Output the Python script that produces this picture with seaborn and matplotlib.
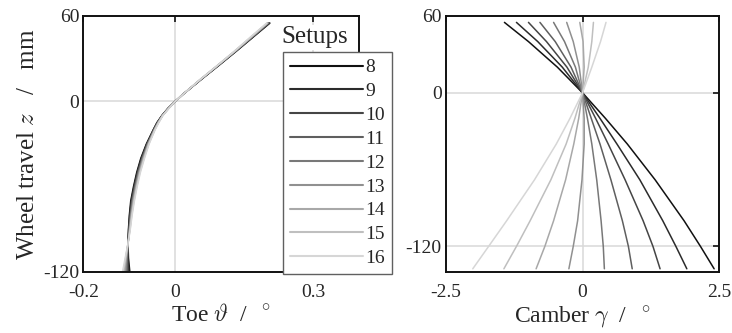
import numpy as np
import pandas as pd
import matplotlib
matplotlib.use("Agg")
import matplotlib.pyplot as plt
import seaborn as sns

# ---------------- data ----------------
setups = ["8", "9", "10", "11", "12", "13", "14", "15", "16"]
colors = ["#111111", "#2b2b2b", "#454545", "#5f5f5f", "#787878",
          "#909090", "#a8a8a8", "#bfbfbf", "#d6d6d6"]

z_toe = [55, 45, 35, 25, 15, 5, 0, -5, -10, -15, -20, -30, -40, -50, -60,
         -70, -80, -90, -100, -110, -120, -137.5]
toe_8 = [0.206, 0.169, 0.132, 0.094, 0.055, 0.017, 0, -0.016, -0.029, -0.040,
         -0.048, -0.063, -0.075, -0.084, -0.091, -0.097, -0.100, -0.102, -0.103, -0.102, -0.099, -0.094]
toe_9 = [0.205, 0.168, 0.131, 0.093, 0.055, 0.017, 0, -0.016, -0.029, -0.0395,
         -0.0475, -0.0623, -0.074, -0.083, -0.090, -0.096, -0.0993, -0.1015, -0.103, -0.1029, -0.101, -0.0979]
toe_10 = [0.204, 0.168, 0.131, 0.093, 0.054, 0.017, 0, -0.0155, -0.0285, -0.039,
          -0.047, -0.0615, -0.073, -0.082, -0.089, -0.095, -0.0985, -0.101, -0.103, -0.1038, -0.103, -0.1018]
toe_11 = [0.203, 0.167, 0.130, 0.092, 0.054, 0.017, 0, -0.0155, -0.0285, -0.0385,
          -0.0465, -0.0608, -0.072, -0.081, -0.088, -0.094, -0.0978, -0.1005, -0.103, -0.1046, -0.105, -0.1056]
toe_12 = [0.202, 0.166, 0.130, 0.092, 0.054, 0.017, 0, -0.015, -0.028, -0.038,
          -0.046, -0.060, -0.071, -0.080, -0.087, -0.093, -0.097, -0.100, -0.103, -0.1055, -0.107, -0.1095]
toe_13 = [0.201, 0.165, 0.129, 0.092, 0.054, 0.017, 0, -0.015, -0.028, -0.0375,
          -0.0455, -0.0593, -0.070, -0.079, -0.086, -0.092, -0.0963, -0.0995, -0.103, -0.1064, -0.109, -0.1134]
toe_14 = [0.201, 0.165, 0.129, 0.091, 0.053, 0.017, 0, -0.0145, -0.0275, -0.037,
          -0.045, -0.0585, -0.069, -0.078, -0.085, -0.091, -0.0955, -0.099, -0.103, -0.1073, -0.111, -0.1173]
toe_15 = [0.200, 0.164, 0.128, 0.091, 0.053, 0.017, 0, -0.0145, -0.0275, -0.0365,
          -0.0445, -0.0578, -0.068, -0.077, -0.084, -0.090, -0.0948, -0.0985, -0.103, -0.1081, -0.113, -0.1211]
toe_16 = [0.199, 0.163, 0.128, 0.091, 0.053, 0.017, 0, -0.014, -0.027, -0.036,
          -0.044, -0.057, -0.067, -0.076, -0.083, -0.089, -0.094, -0.098, -0.103, -0.109, -0.115, -0.125]

z_camber = [55, 40, 20, 0, -20, -40, -68, -100, -120, -137.5]
camber_8 = [-1.43, -0.99, -0.46, 0, 0.42, 0.82, 1.33, 1.86, 2.16, 2.41]
camber_9 = [-1.21, -0.82, -0.37, 0, 0.32, 0.63, 1.05, 1.47, 1.71, 1.91]
camber_10 = [-0.99, -0.66, -0.285, 0, 0.24, 0.47, 0.78, 1.11, 1.29, 1.42]
camber_11 = [-0.78, -0.50, -0.21, 0, 0.16, 0.32, 0.52, 0.73, 0.84, 0.91]
camber_12 = [-0.53, -0.33, -0.13, 0, 0.09, 0.17, 0.26, 0.34, 0.38, 0.40]
camber_13 = [-0.29, -0.17, -0.06, 0, 0.03, 0.03, -0.01, -0.09, -0.17, -0.25]
camber_14 = [-0.05, 0.01, 0.03, 0, -0.07, -0.16, -0.31, -0.53, -0.69, -0.85]
camber_15 = [0.20, 0.17, 0.105, 0, -0.14, -0.30, -0.58, -0.96, -1.21, -1.44]
camber_16 = [0.43, 0.33, 0.17, 0, -0.23, -0.48, -0.88, -1.39, -1.72, -2.01]

toe_ticks = [-0.2, 0, 0.3]
toe_ticklabels = ["-0.2", "0", "0.3"]
camber_ticks = [-2.5, 0, 2.5]
camber_ticklabels = ["-2.5", "0", "2.5"]
z_ticks = [-120, 0, 60]
z_ticklabels = ["-120", "0", "60"]

toe_all = [toe_8, toe_9, toe_10, toe_11, toe_12, toe_13, toe_14, toe_15, toe_16]
camber_all = [camber_8, camber_9, camber_10, camber_11, camber_12,
              camber_13, camber_14, camber_15, camber_16]

toe_df = pd.concat([pd.DataFrame({"setup": s, "z": z_toe, "val": v})
                    for s, v in zip(setups, toe_all)], ignore_index=True)
cam_df = pd.concat([pd.DataFrame({"setup": s, "z": z_camber, "val": v})
                    for s, v in zip(setups, camber_all)], ignore_index=True)
palette = dict(zip(setups, colors))

# ---------------- style ----------------
sns.set_style("white")
plt.rcParams["font.family"] = ["Liberation Serif", "DejaVu Serif"]
plt.rcParams["mathtext.fontset"] = "cm"
plt.rcParams["axes.unicode_minus"] = False

fig = plt.figure(figsize=(7.32, 3.33), dpi=100)
axL = fig.add_axes([0.114, 0.1832, 0.3764, 0.7688])
axR = fig.add_axes([0.6093, 0.1832, 0.3730, 0.7688])

grid_c = "#d9d9d9"
tick_fs = 14
label_fs = 17

# left: toe
axL.axvline(0, color=grid_c, lw=1.1, zorder=0)
axL.axvline(0.3, color=grid_c, lw=1.1, zorder=0)
axL.axhline(0, color=grid_c, lw=1.1, zorder=0)
sns.lineplot(data=toe_df, x="val", y="z", hue="setup", hue_order=setups,
             palette=palette, sort=False, estimator=None, lw=1.1, ax=axL,
             legend=True)
handles, labels = axL.get_legend_handles_labels()
axL.get_legend().remove()
axL.set_xlim(-0.2, 0.4)
axL.set_ylim(-120, 60)
axL.set_xticks(toe_ticks)
axL.set_xticklabels(toe_ticklabels)
axL.set_yticks(z_ticks)
axL.set_yticklabels(z_ticklabels)
axL.set_xlabel(r"Toe $\vartheta$  /  $^\circ$", fontsize=label_fs, labelpad=2)
axL.set_ylabel(r"Wheel travel $z$   /   mm", fontsize=18, labelpad=3)

# right: camber
axR.axvline(0, color=grid_c, lw=1.1, zorder=0)
axR.axhline(0, color=grid_c, lw=1.1, zorder=0)
axR.axhline(-120, color=grid_c, lw=1.1, zorder=0)
sns.lineplot(data=cam_df, x="val", y="z", hue="setup", hue_order=setups,
             palette=palette, sort=False, estimator=None, lw=1.1, ax=axR,
             legend=False)
axR.set_xlim(-2.5, 2.5)
axR.set_ylim(-140, 60)
axR.set_xticks(camber_ticks)
axR.set_xticklabels(camber_ticklabels)
axR.set_yticks(z_ticks)
axR.set_yticklabels(z_ticklabels)
axR.set_xlabel(r"Camber $\gamma$  /  $^\circ$", fontsize=label_fs, labelpad=2)
axR.set_ylabel("")

for ax in (axL, axR):
    for sp in ax.spines.values():
        sp.set_visible(True)
        sp.set_color("#111111")
        sp.set_linewidth(1.4)
    ax.tick_params(direction="in", top=True, right=True, length=4, width=1.2,
                   color="#111111", labelsize=tick_fs)
    ax.tick_params(axis="x", pad=9)
    ax.tick_params(axis="y", pad=3)

# legend
leg = fig.legend(handles, labels, loc="upper left",
                 bbox_to_anchor=(283 / 732, 1 - 52 / 333),
                 bbox_transform=fig.transFigure, borderaxespad=0,
                 frameon=True, fancybox=False, framealpha=1,
                 edgecolor="#606060", fontsize=14, handlelength=3.75,
                 handletextpad=0.15, labelspacing=0.32, borderpad=0.35)
leg.get_frame().set_linewidth(1.0)
for ln in leg.get_lines():
    ln.set_linewidth(1.5)

fig.text(315 / 732, 1 - 37 / 333, "Setups", fontsize=18, ha="center",
         va="center", bbox=dict(facecolor="white", edgecolor="none", pad=1))

fig.savefig("out.png", dpi=100)
